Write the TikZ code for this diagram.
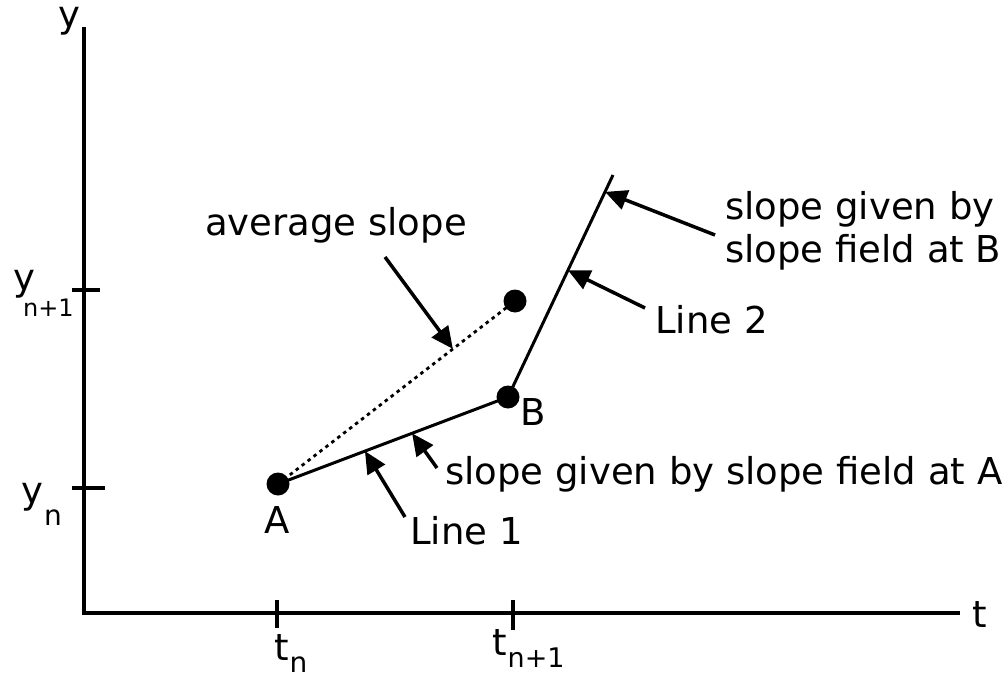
\documentclass[tikz,border=0pt]{standalone}
\usepackage{fontspec}
\setmainfont{DejaVu Sans}
\usetikzlibrary{arrows.meta, positioning, calc}
\tikzset{
  ax/line/.style={line width=3.5pt},
  ax/tick/.style={line width=3.5pt},
  ax/lbl/.style={font=\fontsize{37}{40}\selectfont, inner sep=0pt, anchor=base west},
  pt/dot/.style={circle, fill=black, inner sep=0pt, minimum size=23pt},
  ln/seg/.style={line width=3pt},
  ln/avg/.style={line width=2.8pt, dash pattern=on 3.5pt off 4pt},
  ptr/.style={-{Triangle[length=22pt,width=20pt]}, line width=3.5pt},
  txt/.style={font=\fontsize{37}{43}\selectfont, inner sep=0pt, anchor=base west, align=left}
}
% lowered index: drop, size, text
\newcommand{\lowtxt}[3]{\raisebox{-#1}{\fontsize{#2}{#2}\selectfont #3}}

\begin{document}
\begin{tikzpicture}[x=1pt, y=-1pt]
  \useasboundingbox (0,0) rectangle (1006,677);
  % axes
  \coordinate (O) at (84,613);
  \coordinate (ytop) at (84,27);
  \coordinate (tend) at (960,613);
  \draw[ax/line] (ytop) -- (O) -- (tend);
  \node[ax/lbl, anchor=base] (ylab) at (69,28) {y};
  \node[ax/lbl, anchor=base] (tlab) at (980,627) {t};

  % ticks
  \draw[ax/tick] (72,290) -- (100,290);
  \draw[ax/tick] (72,488) -- (105,488);
  \draw[ax/tick] (277,600) -- (277,628);
  \draw[ax/tick] (513,600) -- (513,630);
  \node[ax/lbl] (yn1) at (13,290) {y\kern-12pt\lowtxt{26pt}{24}{n+1}};
  \node[ax/lbl] (yn) at (21,503) {y\kern1pt\lowtxt{22pt}{28}{n}};
  \node[ax/lbl] (tn) at (274,660) {t\kern1pt\lowtxt{12pt}{28}{n}};
  \node[ax/lbl] (tn1) at (492,655) {t\kern1pt\lowtxt{12pt}{27}{n+1}};

  % points
  \node[pt/dot] (A) at (278,484) {};
  \node[pt/dot] (B) at (508,397) {};
  \node[pt/dot] (M) at (515,301) {};
  \coordinate (Btop) at (613,175);
  \node[ax/lbl, anchor=base] (Alab) at (277,533) {A};
  \node[ax/lbl] (Blab) at (520,425) {B};

  % lines
  \draw[ln/avg] (A.center) -- (M.center);
  \draw[ln/seg] (A.center) -- (B.center);
  \draw[ln/seg] (B.center) -- (Btop);

  % labels
  \node[txt] (avgtxt) at (205,235) {average slope};
  \node[txt, anchor=north west] (fieldB) at (725,191) {slope given by\\slope field at B};
  \node[txt] (line2txt) at (655,333) {Line 2};
  \node[txt] (fieldA) at (445,484) {slope given by slope field at A};
  \node[txt] (line1txt) at (410,544) {Line 1};

  % pointers
  \coordinate (avgtail) at (385,257);
  \coordinate (Btail) at (715,235);
  \coordinate (l2tail) at (645,308);
  \coordinate (Atail) at (437,468);
  \coordinate (l1tail) at (405,517);
  \draw[ptr] (avgtail) -- ($(A.center)!0.738!(M.center)$);
  \draw[ptr] (Btail) -- ($(B.center)!0.924!(Btop)$);
  \draw[ptr] (l2tail) -- ($(B.center)!0.571!(Btop)$);
  \draw[ptr] (Atail) -- ($(A.center)!0.583!(B.center)$);
  \draw[ptr] (l1tail) -- ($(A.center)!0.378!(B.center)$);
\end{tikzpicture}
\end{document}
